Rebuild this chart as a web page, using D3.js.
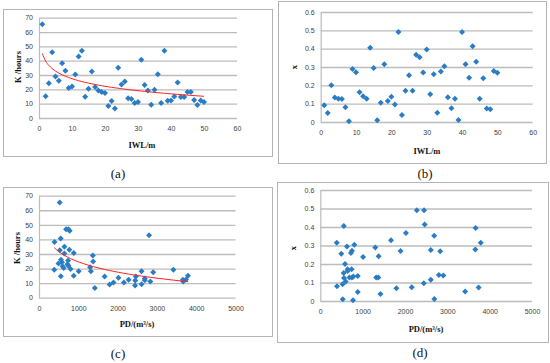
<!DOCTYPE html>
<html>
<head>
<meta charset="utf-8">
<script src="https://cdn.jsdelivr.net/npm/d3@7"></script>
<style>
  body { margin: 0; background: #fff; }
  svg { display: block; }
  .tick text { font-family: "Liberation Sans", Arial, sans-serif; font-size: 7px; fill: #404040; }
  .ttl { font-family: "Liberation Serif", "Times New Roman", serif; font-weight: bold; font-size: 8.5px; fill: #111; }
  .lbl { font-family: "Liberation Serif", "Times New Roman", serif; font-size: 13px; fill: #111; }
</style>
</head>
<body>
<script>
// --- data: one entry per sample (IWL = 1..50) ---
const iwl = d3.range(1, 51);
const kHours = [65.4, 15.1, 24.3, 45.9, 29, 26, 38.2, 32.9, 20.9, 22,
                30.4, 42.9, 47, 14.8, 20.4, 32.5, 21.6, 19.2, 18.1, 17.4,
                8.3, 11.8, 6.7, 35, 23.4, 25.5, 13.7, 13.2, 10.4, 11.1,
                40.6, 23, 19.2, 9.3, 19.7, 30.6, 10.4, 47, 12, 12.3,
                15, 24.8, 14.6, 14.6, 18.1, 18.1, 12.5, 9, 12.3, 11.1];
const xVal = [0.091, 0.049, 0.200, 0.133, 0.127, 0.125, 0.080, 0.004, 0.289, 0.271,
              0.162, 0.140, 0.127, 0.405, 0.295, 0.009, 0.105, 0.315, 0.115, 0.138,
              0.096, 0.491, 0.038, 0.171, 0.255, 0.171, 0.367, 0.353, 0.270, 0.395,
              0.151, 0.260, 0.051, 0.276, 0.304, 0.135, 0.075, 0.127, 0.011, 0.491,
              0.315, 0.242, 0.413, 0.329, 0.127, 0.238, 0.073, 0.069, 0.278, 0.269];
const pd = [526, 885, 583, 781, 1370, 560, 395, 772, 1300, 748,
            645, 2800, 688, 555, 630, 530, 600, 388, 2610, 2905,
            2445, 2450, 1420, 645, 496, 740, 2022, 2690, 1895, 3669,
            552, 724, 3420, 2610, 803, 885, 2160, 747, 2693, 2280,
            3790, 1378, 2465, 1670, 1320, 1010, 3740, 1797, 3661, 2832];

// --- tick labels ---
const iwlTicks = [0, 10, 20, 30, 40, 50, 60];
const pdTicks = [0, 1000, 2000, 3000, 4000, 5000];
const kTicks = [0, 10, 20, 30, 40, 50, 60, 70];
const xTicks = [0, 0.1, 0.2, 0.3, 0.4, 0.5, 0.6];
const xTickLabels = ["0", "0.1", "0.2", "0.3", "0.4", "0.5", "0.6"];

const panels = [
  { label: "(a)", lx: 118, ly: 178, frame: [3, 9, 272, 156], plot: [39, 17.7, 237, 118],
    xs: iwl, ys: kHours, xt: iwlTicks, yt: kTicks, ytl: null, trend: true,
    xTitle: "IWL/m", xtx: 142, xty: 148, yTitle: "K /hours", ytx: 21, yty: 67 },
  { label: "(b)", lx: 425, ly: 178, frame: [278, 1, 546, 163], plot: [320.7, 12, 532.7, 122],
    xs: iwl, ys: xVal, xt: iwlTicks, yt: xTicks, ytl: xTickLabels, trend: false,
    xTitle: "IWL/m", xtx: 427, xty: 154, yTitle: "x", ytx: 297, yty: 67 },
  { label: "(c)", lx: 118, ly: 358, frame: [3, 187, 272, 336], plot: [39, 195.7, 235.5, 297.7],
    xs: pd, ys: kHours, xt: pdTicks, yt: kTicks, ytl: null, trend: true,
    xTitle: "PD/(m³/s)", xtx: 137, xty: 327, yTitle: "K /hours", ytx: 20, yty: 248 },
  { label: "(d)", lx: 420, ly: 357, frame: [277, 182, 548, 342], plot: [320.3, 190, 532, 301],
    xs: pd, ys: xVal, xt: pdTicks, yt: xTicks, ytl: xTickLabels, trend: false,
    xTitle: "PD/(m³/s)", xtx: 426, xty: 332, yTitle: "x", ytx: 296, yty: 248 }
];

const svg = d3.select("body").append("svg").attr("width", 550).attr("height", 363);
const diamond = d3.symbol().type(d3.symbolSquare).size(18);

panels.forEach(p => {
  const [fx0, fy0, fx1, fy1] = p.frame;
  const [px0, py0, px1, py1] = p.plot;

  svg.append("rect")
    .attr("x", fx0 + 0.5).attr("y", fy0 + 0.5)
    .attr("width", fx1 - fx0).attr("height", fy1 - fy0)
    .attr("fill", "none").attr("stroke", "#b4b4b4");

  const x = d3.scaleLinear().domain(d3.extent(p.xt)).range([px0, px1]);
  const y = d3.scaleLinear().domain(d3.extent(p.yt)).range([py1, py0]);

  // horizontal gridlines + y labels
  const yAxis = d3.axisLeft(y).tickValues(p.yt)
    .tickSizeInner(-(px1 - px0)).tickSizeOuter(0).tickPadding(6)
    .tickFormat((d, i) => p.ytl ? p.ytl[i] : String(d));
  svg.append("g").attr("transform", `translate(${px0},0)`).call(yAxis)
    .call(g => g.select(".domain").attr("stroke", "#bcbcbc").attr("stroke-width", 1.2))
    .call(g => g.selectAll(".tick line").attr("stroke", "#bcbcbc").attr("stroke-width", 1.3));

  const xAxis = d3.axisBottom(x).tickValues(p.xt).tickSize(0).tickPadding(8)
    .tickFormat(d => String(d));
  svg.append("g").attr("transform", `translate(0,${py1})`).call(xAxis)
    .call(g => g.select(".domain").remove());

  // points
  svg.append("g").selectAll("path")
    .data(p.xs.map((v, i) => [v, p.ys[i]]))
    .join("path")
    .attr("d", diamond)
    .attr("fill", "#2a7dc4")
    .attr("transform", d => `translate(${x(d[0])},${y(d[1])}) rotate(45)`);

  // logarithmic trendline fitted to the data (y = a + b ln x)
  if (p.trend) {
    const lx = p.xs.map(Math.log);
    const mx = d3.mean(lx), my = d3.mean(p.ys);
    const b = d3.sum(lx, (v, i) => (v - mx) * (p.ys[i] - my)) / d3.sum(lx, v => (v - mx) ** 2);
    const a = my - b * mx;
    const xsSorted = p.xs.slice().sort((u, v) => u - v);
    svg.append("path")
      .datum(xsSorted)
      .attr("fill", "none").attr("stroke", "#ff2020").attr("stroke-width", 1)
      .attr("d", d3.line().x(d => x(d)).y(d => y(a + b * Math.log(d))).curve(d3.curveMonotoneX));
  }

  svg.append("text").attr("class", "ttl").attr("x", p.xtx).attr("y", p.xty)
    .attr("text-anchor", "middle").text(p.xTitle);
  svg.append("text").attr("class", "ttl")
    .attr("transform", `translate(${p.ytx},${p.yty}) rotate(-90)`)
    .attr("text-anchor", "middle").text(p.yTitle);
  svg.append("text").attr("class", "lbl").attr("x", p.lx).attr("y", p.ly)
    .attr("text-anchor", "middle").text(p.label);
});
</script>
</body>
</html>
